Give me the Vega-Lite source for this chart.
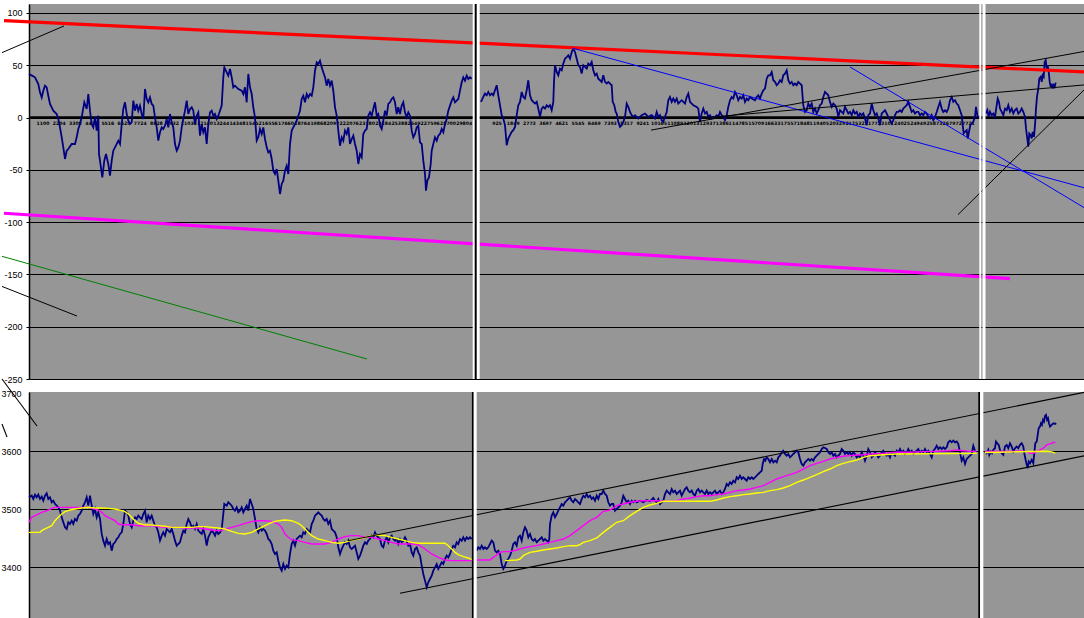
{
"$schema":"https://vega.github.io/schema/vega-lite/v6.json",
"padding":0,
"background":"white",
"spacing":13,
"bounds":"flush",
"config":{"view":{"stroke":null,"fill":"#969696"},"font":"Liberation Sans"},
"resolve":{"scale":{"x":"independent","y":"independent","color":"independent"}},
"datasets":{
"osc":[
{"s":1,"t":0,"v":41.7},{"s":1,"t":3,"v":40.1},{"s":1,"t":6,"v":38.5},{"s":1,"t":9.3,"v":32.1},{"s":1,"t":11,"v":24.1},{"s":1,"t":12.7,"v":19.3},{"s":1,"t":14.3,"v":25.7},{"s":1,"t":16,"v":30.5},{"s":1,"t":17.7,"v":28.9},{"s":1,"t":19.3,"v":20.9},{"s":1,"t":21,"v":13},{"s":1,"t":22.7,"v":9.8},{"s":1,"t":24.3,"v":6.6},{"s":1,"t":27.7,"v":3.4},{"s":1,"t":29.3,"v":-1.4},{"s":1,"t":31,"v":-9.4},{"s":1,"t":32.7,"v":-18.9},{"s":1,"t":34.3,"v":-28.5},{"s":1,"t":36,"v":-39.6},{"s":1,"t":37.7,"v":-31.7},{"s":1,"t":39.3,"v":-30.1},{"s":1,"t":42.7,"v":-25.3},{"s":1,"t":46,"v":-25.3},{"s":1,"t":47.7,"v":-18.9},{"s":1,"t":49.3,"v":-10.9},{"s":1,"t":51,"v":-6.2},{"s":1,"t":52.7,"v":0.2},{"s":1,"t":55.3,"v":14.6},{"s":1,"t":57.7,"v":8.2},{"s":1,"t":59.3,"v":22.5},{"s":1,"t":61,"v":6.6},{"s":1,"t":62.7,"v":-6.2},{"s":1,"t":64.3,"v":-9.4},{"s":1,"t":66,"v":0.2},{"s":1,"t":67.7,"v":-12.5},{"s":1,"t":69.3,"v":1.8},{"s":1,"t":70,"v":-34.9},{"s":1,"t":71,"v":-41.2},{"s":1,"t":73.3,"v":-57.2},{"s":1,"t":75.3,"v":-41.2},{"s":1,"t":77,"v":-34.9},{"s":1,"t":79.3,"v":-44.4},{"s":1,"t":81,"v":-55.6},{"s":1,"t":82.7,"v":-41.2},{"s":1,"t":84.3,"v":-31.7},{"s":1,"t":86,"v":-28.5},{"s":1,"t":89.3,"v":-22.1},{"s":1,"t":91,"v":-25.3},{"s":1,"t":92.7,"v":-6.2},{"s":1,"t":94.3,"v":8.2},{"s":1,"t":96,"v":14.6},{"s":1,"t":97.7,"v":3.4},{"s":1,"t":99.3,"v":-3},{"s":1,"t":101,"v":-6.2},{"s":1,"t":102.7,"v":-4.6},{"s":1,"t":104.3,"v":16.2},{"s":1,"t":106,"v":6.6},{"s":1,"t":107.7,"v":13},{"s":1,"t":109.3,"v":6.6},{"s":1,"t":111,"v":11.4},{"s":1,"t":112.7,"v":3.4},{"s":1,"t":114.3,"v":-1.4},{"s":1,"t":116,"v":27.3},{"s":1,"t":117.7,"v":17.8},{"s":1,"t":119.3,"v":14.6},{"s":1,"t":121,"v":19.3},{"s":1,"t":122.7,"v":13},{"s":1,"t":124.3,"v":11.4},{"s":1,"t":126,"v":0.2},{"s":1,"t":127.7,"v":-9.4},{"s":1,"t":129.3,"v":-22.1},{"s":1,"t":131,"v":-14.1},{"s":1,"t":132.7,"v":-9.4},{"s":1,"t":134.3,"v":-10.9},{"s":1,"t":136,"v":-7.8},{"s":1,"t":137.7,"v":-1.4},{"s":1,"t":139.3,"v":-9.4},{"s":1,"t":141,"v":3.4},{"s":1,"t":142.7,"v":-4.6},{"s":1,"t":144.3,"v":-9.4},{"s":1,"t":146,"v":-25.3},{"s":1,"t":147.7,"v":-31.7},{"s":1,"t":149.3,"v":-28.5},{"s":1,"t":151,"v":-22.1},{"s":1,"t":152.7,"v":-9.4},{"s":1,"t":154.3,"v":-1.4},{"s":1,"t":156,"v":6.6},{"s":1,"t":157.7,"v":16.2},{"s":1,"t":159.3,"v":3.4},{"s":1,"t":161,"v":8.2},{"s":1,"t":162.7,"v":9.8},{"s":1,"t":164.3,"v":6.6},{"s":1,"t":166,"v":-6.2},{"s":1,"t":167.7,"v":1.8},{"s":1,"t":169.3,"v":5},{"s":1,"t":171,"v":-17.3},{"s":1,"t":172.7,"v":-6.2},{"s":1,"t":174.3,"v":-14.1},{"s":1,"t":176,"v":-9.4},{"s":1,"t":177.7,"v":-25.3},{"s":1,"t":179.3,"v":-6.2},{"s":1,"t":181,"v":5},{"s":1,"t":182.7,"v":6.6},{"s":1,"t":184.3,"v":1.8},{"s":1,"t":186,"v":3.4},{"s":1,"t":187.7,"v":-1.4},{"s":1,"t":189.3,"v":1.8},{"s":1,"t":191,"v":6.6},{"s":1,"t":192.7,"v":11.4},{"s":1,"t":194.3,"v":38.5},{"s":1,"t":195.3,"v":48},{"s":1,"t":197.7,"v":43.3},{"s":1,"t":199.3,"v":40.1},{"s":1,"t":201,"v":46.4},{"s":1,"t":202.7,"v":38.5},{"s":1,"t":204.3,"v":28.9},{"s":1,"t":206,"v":30.5},{"s":1,"t":209.3,"v":27.3},{"s":1,"t":212.7,"v":25.7},{"s":1,"t":214.3,"v":22.5},{"s":1,"t":216,"v":28.9},{"s":1,"t":217.7,"v":14.6},{"s":1,"t":219.3,"v":41.7},{"s":1,"t":221,"v":28.9},{"s":1,"t":222.7,"v":22.5},{"s":1,"t":224.3,"v":9.8},{"s":1,"t":226,"v":0.2},{"s":1,"t":227.7,"v":-22.1},{"s":1,"t":229.3,"v":-18.9},{"s":1,"t":231,"v":-10.9},{"s":1,"t":232.7,"v":-15.7},{"s":1,"t":234.3,"v":-9.4},{"s":1,"t":236,"v":-20.5},{"s":1,"t":237.7,"v":-28.5},{"s":1,"t":239.3,"v":-33.3},{"s":1,"t":241,"v":-31.7},{"s":1,"t":242.7,"v":-39.6},{"s":1,"t":244.3,"v":-50.8},{"s":1,"t":246,"v":-54},{"s":1,"t":247.7,"v":-49.2},{"s":1,"t":249.3,"v":-60.3},{"s":1,"t":251,"v":-73.1},{"s":1,"t":252.7,"v":-63.5},{"s":1,"t":254.3,"v":-60.3},{"s":1,"t":256,"v":-50.8},{"s":1,"t":257.7,"v":-46},{"s":1,"t":259.3,"v":-54},{"s":1,"t":261,"v":-25.3},{"s":1,"t":262.7,"v":-12.5},{"s":1,"t":264.3,"v":-9.4},{"s":1,"t":266,"v":-6.2},{"s":1,"t":267.7,"v":-3},{"s":1,"t":269.3,"v":1.8},{"s":1,"t":271,"v":6.6},{"s":1,"t":272.7,"v":17.8},{"s":1,"t":274.3,"v":20.9},{"s":1,"t":276,"v":14.6},{"s":1,"t":277.7,"v":22.5},{"s":1,"t":279.3,"v":19.3},{"s":1,"t":281,"v":22.5},{"s":1,"t":282.7,"v":20.9},{"s":1,"t":284.3,"v":28.9},{"s":1,"t":286,"v":44.8},{"s":1,"t":287.7,"v":52.8},{"s":1,"t":289.3,"v":51.2},{"s":1,"t":291,"v":54.4},{"s":1,"t":292.7,"v":48},{"s":1,"t":294.3,"v":43.3},{"s":1,"t":296,"v":38.5},{"s":1,"t":297.7,"v":30.5},{"s":1,"t":299.3,"v":36.9},{"s":1,"t":301,"v":30.5},{"s":1,"t":302.7,"v":35.3},{"s":1,"t":304.3,"v":25.7},{"s":1,"t":306,"v":9.8},{"s":1,"t":307.7,"v":1.8},{"s":1,"t":309.3,"v":-12.5},{"s":1,"t":311,"v":-26.9},{"s":1,"t":312.7,"v":-18.9},{"s":1,"t":314.3,"v":-22.1},{"s":1,"t":316,"v":-12.5},{"s":1,"t":317.7,"v":-15.7},{"s":1,"t":319.3,"v":-9.4},{"s":1,"t":321,"v":-25.3},{"s":1,"t":322.7,"v":-20.5},{"s":1,"t":324.3,"v":-17.3},{"s":1,"t":326,"v":-25.3},{"s":1,"t":327.7,"v":-31.7},{"s":1,"t":329.3,"v":-44.4},{"s":1,"t":331,"v":-34.9},{"s":1,"t":332.7,"v":-38},{"s":1,"t":334.3,"v":-15.7},{"s":1,"t":336,"v":-12.5},{"s":1,"t":337.7,"v":-10.9},{"s":1,"t":339.3,"v":1.8},{"s":1,"t":341,"v":5},{"s":1,"t":342.7,"v":1.8},{"s":1,"t":344.3,"v":8.2},{"s":1,"t":346,"v":14.6},{"s":1,"t":347.7,"v":1.8},{"s":1,"t":349.3,"v":3.4},{"s":1,"t":351,"v":-7.8},{"s":1,"t":352.7,"v":-10.9},{"s":1,"t":354.3,"v":-3},{"s":1,"t":356,"v":6.6},{"s":1,"t":357.7,"v":1.8},{"s":1,"t":359.3,"v":13},{"s":1,"t":361,"v":14.6},{"s":1,"t":362.7,"v":17.8},{"s":1,"t":364.3,"v":19.3},{"s":1,"t":366,"v":14.6},{"s":1,"t":367.7,"v":3.4},{"s":1,"t":369.3,"v":9.8},{"s":1,"t":371,"v":3.4},{"s":1,"t":372.7,"v":11.4},{"s":1,"t":374.3,"v":14.6},{"s":1,"t":376,"v":5},{"s":1,"t":377.7,"v":0.2},{"s":1,"t":379.3,"v":5},{"s":1,"t":381,"v":1.8},{"s":1,"t":382.7,"v":-12.5},{"s":1,"t":384.3,"v":-18.9},{"s":1,"t":386,"v":-15.7},{"s":1,"t":387.7,"v":-9.4},{"s":1,"t":389.3,"v":-7.8},{"s":1,"t":391,"v":-23.7},{"s":1,"t":392.7,"v":-25.3},{"s":1,"t":394.3,"v":-41.2},{"s":1,"t":396,"v":-54},{"s":1,"t":397,"v":-69.9},{"s":1,"t":398.3,"v":-60.3},{"s":1,"t":400,"v":-57.2},{"s":1,"t":401.7,"v":-44.4},{"s":1,"t":402.7,"v":-31.7},{"s":1,"t":404.3,"v":-25.3},{"s":1,"t":406,"v":-18.9},{"s":1,"t":407.7,"v":-22.1},{"s":1,"t":409.3,"v":-17.3},{"s":1,"t":411,"v":-15.7},{"s":1,"t":412.7,"v":-10.9},{"s":1,"t":414.3,"v":-14.1},{"s":1,"t":416,"v":-6.2},{"s":1,"t":417.7,"v":-1.4},{"s":1,"t":419.3,"v":6.6},{"s":1,"t":421,"v":11.4},{"s":1,"t":422.7,"v":16.2},{"s":1,"t":424.3,"v":19.3},{"s":1,"t":426,"v":14.6},{"s":1,"t":427.7,"v":16.2},{"s":1,"t":429.3,"v":17.8},{"s":1,"t":431,"v":25.7},{"s":1,"t":432.7,"v":33.7},{"s":1,"t":434.3,"v":38.5},{"s":1,"t":436,"v":35.3},{"s":1,"t":437.7,"v":40.1},{"s":1,"t":439.3,"v":36.9},{"s":1,"t":441,"v":38.5},{"s":1,"t":442.7,"v":36.9},
{"s":2,"t":452,"v":15},{"s":2,"t":454.3,"v":19.7},{"s":2,"t":456,"v":22.9},{"s":2,"t":457.7,"v":21.3},{"s":2,"t":459.3,"v":24.5},{"s":2,"t":461,"v":21.3},{"s":2,"t":462.7,"v":22.9},{"s":2,"t":464.3,"v":21.3},{"s":2,"t":466,"v":26.1},{"s":2,"t":467.7,"v":30.9},{"s":2,"t":469.3,"v":21.3},{"s":2,"t":471,"v":11.8},{"s":2,"t":472.7,"v":2.3},{"s":2,"t":474.3,"v":-0.9},{"s":2,"t":476,"v":-7.3},{"s":2,"t":477.7,"v":-26.4},{"s":2,"t":479.3,"v":-20},{"s":2,"t":481,"v":-16.8},{"s":2,"t":482.7,"v":-13.6},{"s":2,"t":484.3,"v":-12.1},{"s":2,"t":486,"v":-8.9},{"s":2,"t":487.7,"v":2.3},{"s":2,"t":489.3,"v":11.8},{"s":2,"t":491,"v":15},{"s":2,"t":492.7,"v":24.5},{"s":2,"t":494.3,"v":19.7},{"s":2,"t":496,"v":18.2},{"s":2,"t":497.7,"v":26.1},{"s":2,"t":499.3,"v":35.7},{"s":2,"t":501,"v":21.3},{"s":2,"t":502.7,"v":16.6},{"s":2,"t":504.3,"v":15},{"s":2,"t":506,"v":13.4},{"s":2,"t":507.7,"v":15},{"s":2,"t":509.3,"v":8.6},{"s":2,"t":511,"v":0.7},{"s":2,"t":512.7,"v":8.6},{"s":2,"t":514.3,"v":10.2},{"s":2,"t":516,"v":8.6},{"s":2,"t":517.7,"v":11.8},{"s":2,"t":519.3,"v":10.2},{"s":2,"t":521,"v":11.8},{"s":2,"t":522.7,"v":7},{"s":2,"t":524.3,"v":15},{"s":2,"t":525,"v":34.1},{"s":2,"t":526,"v":50},{"s":2,"t":527.7,"v":43.6},{"s":2,"t":529.3,"v":40.4},{"s":2,"t":531,"v":46.8},{"s":2,"t":532.7,"v":45.2},{"s":2,"t":534.3,"v":51.6},{"s":2,"t":536,"v":56.3},{"s":2,"t":537.7,"v":57.9},{"s":2,"t":539.3,"v":59.5},{"s":2,"t":541,"v":56.3},{"s":2,"t":542.7,"v":62.7},{"s":2,"t":544.3,"v":65.9},{"s":2,"t":546,"v":62.7},{"s":2,"t":547.7,"v":56.3},{"s":2,"t":549.3,"v":50},{"s":2,"t":551,"v":48.4},{"s":2,"t":552.7,"v":42},{"s":2,"t":554.3,"v":50},{"s":2,"t":556,"v":48.4},{"s":2,"t":557.7,"v":46.8},{"s":2,"t":559.3,"v":51.6},{"s":2,"t":561,"v":50},{"s":2,"t":562.7,"v":53.1},{"s":2,"t":564.3,"v":45.2},{"s":2,"t":566,"v":40.4},{"s":2,"t":567.7,"v":42},{"s":2,"t":569.3,"v":37.2},{"s":2,"t":571,"v":35.7},{"s":2,"t":572.7,"v":34.1},{"s":2,"t":574.3,"v":40.4},{"s":2,"t":576,"v":34.1},{"s":2,"t":577.7,"v":32.5},{"s":2,"t":579.3,"v":34.1},{"s":2,"t":581,"v":32.5},{"s":2,"t":582.7,"v":30.9},{"s":2,"t":583.7,"v":15},{"s":2,"t":585.3,"v":11.8},{"s":2,"t":586.7,"v":5.4},{"s":2,"t":587.7,"v":3.9},{"s":2,"t":589.3,"v":-4.1},{"s":2,"t":591,"v":-8.9},{"s":2,"t":592.7,"v":-7.3},{"s":2,"t":594.3,"v":-4.1},{"s":2,"t":596,"v":0.7},{"s":2,"t":597.7,"v":13.4},{"s":2,"t":599.3,"v":10.2},{"s":2,"t":601,"v":5.4},{"s":2,"t":602.7,"v":2.3},{"s":2,"t":604.3,"v":0.7},{"s":2,"t":606,"v":2.3},{"s":2,"t":609.3,"v":-0.9},{"s":2,"t":612.7,"v":2.3},{"s":2,"t":616,"v":3.9},{"s":2,"t":619.3,"v":0.7},{"s":2,"t":622.7,"v":2.3},{"s":2,"t":626,"v":-0.9},{"s":2,"t":627.7,"v":5.4},{"s":2,"t":629.3,"v":0.7},{"s":2,"t":631,"v":2.3},{"s":2,"t":632.7,"v":-2.5},{"s":2,"t":634.3,"v":-4.1},{"s":2,"t":636,"v":0.7},{"s":2,"t":637.7,"v":5.4},{"s":2,"t":639.3,"v":16.6},{"s":2,"t":641,"v":19.7},{"s":2,"t":642.7,"v":15},{"s":2,"t":644.3,"v":18.2},{"s":2,"t":646,"v":15},{"s":2,"t":647.7,"v":18.2},{"s":2,"t":649.3,"v":13.4},{"s":2,"t":652.7,"v":16.6},{"s":2,"t":656,"v":13.4},{"s":2,"t":657.7,"v":19.7},{"s":2,"t":659.3,"v":22.9},{"s":2,"t":661,"v":15},{"s":2,"t":662.7,"v":13.4},{"s":2,"t":664.3,"v":11.8},{"s":2,"t":667.7,"v":10.2},{"s":2,"t":669.3,"v":8.6},{"s":2,"t":671,"v":-4.1},{"s":2,"t":672.7,"v":3.9},{"s":2,"t":674.3,"v":8.6},{"s":2,"t":676,"v":3.9},{"s":2,"t":677.7,"v":5.4},{"s":2,"t":679.3,"v":0.7},{"s":2,"t":681,"v":2.3},{"s":2,"t":682.7,"v":-0.9},{"s":2,"t":684.3,"v":0.7},{"s":2,"t":686,"v":0.7},{"s":2,"t":687.7,"v":2.3},{"s":2,"t":689.3,"v":0.7},{"s":2,"t":691,"v":5.4},{"s":2,"t":692.7,"v":2.3},{"s":2,"t":694.3,"v":0.7},{"s":2,"t":696,"v":-2.5},{"s":2,"t":697.7,"v":2.3},{"s":2,"t":699.3,"v":10.2},{"s":2,"t":701,"v":16.6},{"s":2,"t":702.7,"v":19.7},{"s":2,"t":704.3,"v":18.2},{"s":2,"t":706,"v":24.5},{"s":2,"t":707.7,"v":21.3},{"s":2,"t":709.3,"v":16.6},{"s":2,"t":711,"v":19.7},{"s":2,"t":712.7,"v":18.2},{"s":2,"t":714.3,"v":21.3},{"s":2,"t":716,"v":15},{"s":2,"t":717.7,"v":18.2},{"s":2,"t":719.3,"v":16.6},{"s":2,"t":721,"v":19.7},{"s":2,"t":722.7,"v":18.2},{"s":2,"t":726,"v":16.6},{"s":2,"t":727.7,"v":19.7},{"s":2,"t":729.3,"v":21.3},{"s":2,"t":731,"v":18.2},{"s":2,"t":732.7,"v":22.9},{"s":2,"t":734.3,"v":26.1},{"s":2,"t":736,"v":27.7},{"s":2,"t":737.7,"v":37.2},{"s":2,"t":739.3,"v":40.4},{"s":2,"t":741,"v":40.4},{"s":2,"t":742.7,"v":43.6},{"s":2,"t":744.3,"v":35.7},{"s":2,"t":746,"v":34.1},{"s":2,"t":747.7,"v":30.9},{"s":2,"t":749.3,"v":32.5},{"s":2,"t":751,"v":35.7},{"s":2,"t":752.7,"v":34.1},{"s":2,"t":754.3,"v":40.4},{"s":2,"t":756,"v":42},{"s":2,"t":757.7,"v":45.2},{"s":2,"t":759.3,"v":35.7},{"s":2,"t":761,"v":32.5},{"s":2,"t":762.7,"v":34.1},{"s":2,"t":764.3,"v":30.9},{"s":2,"t":766,"v":32.5},{"s":2,"t":767.7,"v":30.9},{"s":2,"t":769.3,"v":34.1},{"s":2,"t":771,"v":32.5},{"s":2,"t":772.7,"v":30.9},{"s":2,"t":774.3,"v":11.8},{"s":2,"t":776,"v":5.4},{"s":2,"t":777.7,"v":7},{"s":2,"t":779.3,"v":13.4},{"s":2,"t":781,"v":10.2},{"s":2,"t":782.7,"v":13.4},{"s":2,"t":784.3,"v":5.4},{"s":2,"t":786,"v":8.6},{"s":2,"t":787.7,"v":3.9},{"s":2,"t":789.3,"v":7},{"s":2,"t":791,"v":11.8},{"s":2,"t":792.7,"v":13.4},{"s":2,"t":794.3,"v":19.7},{"s":2,"t":796,"v":24.5},{"s":2,"t":797.7,"v":22.9},{"s":2,"t":799.3,"v":21.3},{"s":2,"t":801,"v":15},{"s":2,"t":802.7,"v":10.2},{"s":2,"t":804.3,"v":13.4},{"s":2,"t":806,"v":11.8},{"s":2,"t":807.7,"v":8.6},{"s":2,"t":809.3,"v":0.7},{"s":2,"t":811,"v":7},{"s":2,"t":812.7,"v":5.4},{"s":2,"t":814.3,"v":3.9},{"s":2,"t":816,"v":10.2},{"s":2,"t":817.7,"v":7},{"s":2,"t":819.3,"v":3.9},{"s":2,"t":821,"v":5.4},{"s":2,"t":822.7,"v":2.3},{"s":2,"t":824.3,"v":7},{"s":2,"t":826,"v":3.9},{"s":2,"t":827.7,"v":5.4},{"s":2,"t":829.3,"v":0.7},{"s":2,"t":831,"v":3.9},{"s":2,"t":832.7,"v":2.3},{"s":2,"t":834.3,"v":3.9},{"s":2,"t":836,"v":-0.9},{"s":2,"t":837.7,"v":-7.3},{"s":2,"t":839.3,"v":2.3},{"s":2,"t":841,"v":3.9},{"s":2,"t":842.7,"v":13.4},{"s":2,"t":844.3,"v":7},{"s":2,"t":846,"v":2.3},{"s":2,"t":847.7,"v":3.9},{"s":2,"t":849.3,"v":-0.9},{"s":2,"t":851,"v":-7.3},{"s":2,"t":852.7,"v":3.9},{"s":2,"t":854.3,"v":5.4},{"s":2,"t":856,"v":7},{"s":2,"t":857.7,"v":3.9},{"s":2,"t":859.3,"v":0.7},{"s":2,"t":861,"v":-2.5},{"s":2,"t":862.7,"v":-5.7},{"s":2,"t":864.3,"v":-2.5},{"s":2,"t":866,"v":2.3},{"s":2,"t":867.7,"v":5.4},{"s":2,"t":869.3,"v":5.4},{"s":2,"t":871,"v":7},{"s":2,"t":872.7,"v":5.4},{"s":2,"t":874.3,"v":8.6},{"s":2,"t":876,"v":10.2},{"s":2,"t":877.7,"v":11.8},{"s":2,"t":879.3,"v":15},{"s":2,"t":881,"v":10.2},{"s":2,"t":882.7,"v":5.4},{"s":2,"t":884.3,"v":7},{"s":2,"t":886,"v":3.9},{"s":2,"t":887.7,"v":5.4},{"s":2,"t":889.3,"v":5.4},{"s":2,"t":891,"v":2.3},{"s":2,"t":892.7,"v":3.9},{"s":2,"t":894.3,"v":2.3},{"s":2,"t":896,"v":5.4},{"s":2,"t":897.7,"v":3.9},{"s":2,"t":899.3,"v":0.7},{"s":2,"t":901,"v":-0.9},{"s":2,"t":902.7,"v":2.3},{"s":2,"t":904.3,"v":-2.5},{"s":2,"t":906,"v":0.7},{"s":2,"t":907.7,"v":5.4},{"s":2,"t":909.3,"v":10.2},{"s":2,"t":911,"v":15},{"s":2,"t":912.7,"v":8.6},{"s":2,"t":914.3,"v":5.4},{"s":2,"t":916,"v":7},{"s":2,"t":917.7,"v":5.4},{"s":2,"t":919.3,"v":8.6},{"s":2,"t":921,"v":16.6},{"s":2,"t":922.7,"v":19.7},{"s":2,"t":924.3,"v":15},{"s":2,"t":926,"v":16.6},{"s":2,"t":927.7,"v":13.4},{"s":2,"t":929.3,"v":11.8},{"s":2,"t":931,"v":7},{"s":2,"t":932.7,"v":2.3},{"s":2,"t":933.7,"v":-7.3},{"s":2,"t":934.7,"v":-15.2},{"s":2,"t":936,"v":-13.6},{"s":2,"t":937.7,"v":-12.1},{"s":2,"t":938.7,"v":-20},{"s":2,"t":940,"v":-13.6},{"s":2,"t":941.3,"v":-7.3},{"s":2,"t":942.7,"v":-5.7},{"s":2,"t":944.3,"v":-4.1},{"s":2,"t":946,"v":0.7},{"s":2,"t":947,"v":10.2},{"s":2,"t":948.3,"v":2.3},{"s":2,"t":949.3,"v":-0.9},
{"s":3,"t":957,"v":3.9},{"s":3,"t":958.3,"v":7.1},{"s":3,"t":959.7,"v":0.7},{"s":3,"t":961,"v":5.5},{"s":3,"t":962.7,"v":2.3},{"s":3,"t":964.3,"v":3.9},{"s":3,"t":966,"v":0.7},{"s":3,"t":967.7,"v":11.8},{"s":3,"t":968.7,"v":18.2},{"s":3,"t":970,"v":15},{"s":3,"t":971,"v":8.6},{"s":3,"t":972.7,"v":5.5},{"s":3,"t":974.3,"v":2.3},{"s":3,"t":976,"v":8.6},{"s":3,"t":977.7,"v":7.1},{"s":3,"t":979.3,"v":11.8},{"s":3,"t":981,"v":5.5},{"s":3,"t":982.7,"v":8.6},{"s":3,"t":984.3,"v":3.9},{"s":3,"t":986,"v":7.1},{"s":3,"t":987.7,"v":8.6},{"s":3,"t":989.3,"v":3.9},{"s":3,"t":991,"v":5.5},{"s":3,"t":992.7,"v":8.6},{"s":3,"t":994.3,"v":5.5},{"s":3,"t":996,"v":0.7},{"s":3,"t":997,"v":-10.4},{"s":3,"t":998.3,"v":-20},{"s":3,"t":999.3,"v":-27.9},{"s":3,"t":1000.3,"v":-15.2},{"s":3,"t":1001.7,"v":-16.8},{"s":3,"t":1002.7,"v":-20},{"s":3,"t":1003.7,"v":-13.6},{"s":3,"t":1005,"v":-18.4},{"s":3,"t":1006,"v":-7.3},{"s":3,"t":1007,"v":8.6},{"s":3,"t":1008,"v":19.8},{"s":3,"t":1009.3,"v":27.7},{"s":3,"t":1010.3,"v":37.3},{"s":3,"t":1011.7,"v":38.9},{"s":3,"t":1012.7,"v":34.1},{"s":3,"t":1013.7,"v":40.4},{"s":3,"t":1014.7,"v":38.9},{"s":3,"t":1015.7,"v":53.2},{"s":3,"t":1016.7,"v":54.8},{"s":3,"t":1017.7,"v":46.8},{"s":3,"t":1018.7,"v":50},{"s":3,"t":1019.7,"v":43.6},{"s":3,"t":1020.7,"v":34.1},{"s":3,"t":1021.7,"v":29.3},{"s":3,"t":1022.7,"v":32.5},{"s":3,"t":1023.7,"v":27.7},{"s":3,"t":1024.7,"v":30.9},{"s":3,"t":1025.7,"v":29.3},{"s":3,"t":1026.7,"v":33.4}
],
"trendTop":[
{"line":"red","t":-25,"v":92.66},{"line":"red","t":1055,"v":43.6},
{"line":"magenta","t":-25,"v":-91.49},{"line":"magenta","t":981,"v":-154},
{"line":"green","t":-27,"v":-132.67},{"line":"green","t":338,"v":-230.9},
{"line":"k1","t":-27,"v":62.11},{"line":"k1","t":35,"v":87.6},
{"line":"k2","t":-27,"v":-161.48},{"line":"k2","t":48,"v":-189.8},
{"line":"b1","t":543,"v":66.5},{"line":"b1","t":1055,"v":-67.1},
{"line":"b2","t":821,"v":48.4},{"line":"b2","t":1055,"v":-86.1},
{"line":"k3","t":622,"v":-12},{"line":"k3","t":1055,"v":63.2},
{"line":"k4","t":673,"v":-0.3},{"line":"k4","t":1055,"v":31.2},
{"line":"k5","t":929,"v":-92.8},{"line":"k5","t":1055,"v":26.4}
],
"lbl":[
{"t":14,"lab":"1100"},{"t":30.2,"lab":"2204"},{"t":46.4,"lab":"3308"},{"t":62.6,"lab":"4412"},{"t":78.8,"lab":"5516"},{"t":95,"lab":"6620"},{"t":111.2,"lab":"7724"},{"t":127.4,"lab":"8828"},{"t":143.6,"lab":"9932"},{"t":159.8,"lab":"11036"},{"t":176,"lab":"12140"},{"t":192.2,"lab":"13244"},{"t":208.4,"lab":"14348"},{"t":224.6,"lab":"15452"},{"t":240.8,"lab":"16556"},{"t":257,"lab":"17660"},{"t":273.2,"lab":"18764"},{"t":289.4,"lab":"19868"},{"t":305.6,"lab":"20972"},{"t":321.8,"lab":"22076"},{"t":338,"lab":"23180"},{"t":354.2,"lab":"24284"},{"t":370.4,"lab":"25388"},{"t":386.6,"lab":"26492"},{"t":402.8,"lab":"27596"},{"t":419,"lab":"28700"},{"t":435.2,"lab":"29804"},
{"t":468,"lab":"925"},{"t":484.2,"lab":"1849"},{"t":500.4,"lab":"2773"},{"t":516.6,"lab":"3697"},{"t":532.8,"lab":"4621"},{"t":549,"lab":"5545"},{"t":565.2,"lab":"6469"},{"t":581.4,"lab":"7393"},{"t":597.6,"lab":"8317"},{"t":613.8,"lab":"9241"},{"t":630,"lab":"10165"},{"t":646.2,"lab":"11089"},{"t":662.4,"lab":"12013"},{"t":678.6,"lab":"12937"},{"t":694.8,"lab":"13861"},{"t":711,"lab":"14785"},{"t":727.2,"lab":"15709"},{"t":743.4,"lab":"16633"},{"t":759.6,"lab":"17557"},{"t":775.8,"lab":"18481"},{"t":792,"lab":"19405"},{"t":808.2,"lab":"20329"},{"t":824.4,"lab":"21253"},{"t":840.6,"lab":"22177"},{"t":856.8,"lab":"23101"},{"t":873,"lab":"24025"},{"t":889.2,"lab":"24949"},{"t":905.4,"lab":"25873"},{"t":921.6,"lab":"26797"},{"t":937.8,"lab":"27721"}
],
"price":[
{"s":1,"t":0,"v":3520.5},{"s":1,"t":2.7,"v":3523.4},{"s":1,"t":4.3,"v":3517.6},{"s":1,"t":6,"v":3525.1},{"s":1,"t":7.7,"v":3520.5},{"s":1,"t":9.3,"v":3525.1},{"s":1,"t":11,"v":3517.6},{"s":1,"t":12.7,"v":3521.6},{"s":1,"t":14.3,"v":3514.7},{"s":1,"t":16,"v":3523.4},{"s":1,"t":17.7,"v":3527.4},{"s":1,"t":19.3,"v":3517.6},{"s":1,"t":21,"v":3520.5},{"s":1,"t":22.7,"v":3511.9},{"s":1,"t":24.3,"v":3514.7},{"s":1,"t":26,"v":3509},{"s":1,"t":27.7,"v":3506.1},{"s":1,"t":29.3,"v":3503.2},{"s":1,"t":31,"v":3497.5},{"s":1,"t":32.7,"v":3486},{"s":1,"t":34.3,"v":3477.4},{"s":1,"t":36,"v":3468.7},{"s":1,"t":37.7,"v":3465.9},{"s":1,"t":39.3,"v":3477.4},{"s":1,"t":41,"v":3474.5},{"s":1,"t":42.7,"v":3480.2},{"s":1,"t":44.3,"v":3474.5},{"s":1,"t":46,"v":3483.1},{"s":1,"t":47.7,"v":3480.2},{"s":1,"t":49.3,"v":3488.9},{"s":1,"t":51,"v":3491.7},{"s":1,"t":52.7,"v":3497.5},{"s":1,"t":54.3,"v":3506.1},{"s":1,"t":56,"v":3511.9},{"s":1,"t":57.7,"v":3520.5},{"s":1,"t":59.3,"v":3506.1},{"s":1,"t":61,"v":3523.4},{"s":1,"t":62.7,"v":3506.1},{"s":1,"t":64.3,"v":3491.7},{"s":1,"t":66,"v":3500.4},{"s":1,"t":67.7,"v":3486},{"s":1,"t":69.3,"v":3494.6},{"s":1,"t":71,"v":3483.1},{"s":1,"t":72.7,"v":3457.3},{"s":1,"t":74.3,"v":3445.8},{"s":1,"t":76,"v":3437.1},{"s":1,"t":77.7,"v":3448.6},{"s":1,"t":79.3,"v":3440},{"s":1,"t":81,"v":3442.9},{"s":1,"t":82.7,"v":3428.5},{"s":1,"t":84.3,"v":3440},{"s":1,"t":86,"v":3442.9},{"s":1,"t":87.7,"v":3448.6},{"s":1,"t":89.3,"v":3451.5},{"s":1,"t":91,"v":3457.3},{"s":1,"t":92.7,"v":3460.1},{"s":1,"t":94.3,"v":3474.5},{"s":1,"t":96,"v":3497.5},{"s":1,"t":97.7,"v":3494.6},{"s":1,"t":99.3,"v":3488.9},{"s":1,"t":101,"v":3474.5},{"s":1,"t":102.7,"v":3468.7},{"s":1,"t":104.3,"v":3480.2},{"s":1,"t":106,"v":3486},{"s":1,"t":107.7,"v":3483.1},{"s":1,"t":109.3,"v":3488.9},{"s":1,"t":111,"v":3486},{"s":1,"t":112.7,"v":3483.1},{"s":1,"t":114.3,"v":3491.7},{"s":1,"t":116,"v":3497.5},{"s":1,"t":117.7,"v":3477.4},{"s":1,"t":119.3,"v":3488.9},{"s":1,"t":121,"v":3483.1},{"s":1,"t":122.7,"v":3488.9},{"s":1,"t":124.3,"v":3480.2},{"s":1,"t":126,"v":3471.6},{"s":1,"t":127.7,"v":3468.7},{"s":1,"t":129.3,"v":3460.1},{"s":1,"t":131,"v":3445.8},{"s":1,"t":132.7,"v":3454.4},{"s":1,"t":134.3,"v":3460.1},{"s":1,"t":136,"v":3454.4},{"s":1,"t":137.7,"v":3465.9},{"s":1,"t":139.3,"v":3463},{"s":1,"t":141,"v":3460.1},{"s":1,"t":142.7,"v":3465.9},{"s":1,"t":144.3,"v":3457.3},{"s":1,"t":146,"v":3445.8},{"s":1,"t":147.7,"v":3437.1},{"s":1,"t":149.3,"v":3440},{"s":1,"t":151,"v":3442.9},{"s":1,"t":152.7,"v":3454.4},{"s":1,"t":154.3,"v":3463},{"s":1,"t":156,"v":3460.1},{"s":1,"t":157.7,"v":3474.5},{"s":1,"t":159.3,"v":3483.1},{"s":1,"t":161,"v":3477.4},{"s":1,"t":162.7,"v":3468.7},{"s":1,"t":164.3,"v":3471.6},{"s":1,"t":166,"v":3465.9},{"s":1,"t":167.7,"v":3474.5},{"s":1,"t":169.3,"v":3463},{"s":1,"t":171,"v":3460.1},{"s":1,"t":172.7,"v":3457.3},{"s":1,"t":174.3,"v":3465.9},{"s":1,"t":176,"v":3454.4},{"s":1,"t":177.7,"v":3437.1},{"s":1,"t":179.3,"v":3451.5},{"s":1,"t":181,"v":3457.3},{"s":1,"t":182.7,"v":3463},{"s":1,"t":184.3,"v":3460.1},{"s":1,"t":186,"v":3454.4},{"s":1,"t":187.7,"v":3463},{"s":1,"t":189.3,"v":3457.3},{"s":1,"t":191,"v":3460.1},{"s":1,"t":192.7,"v":3465.9},{"s":1,"t":194.3,"v":3491.7},{"s":1,"t":195.3,"v":3509},{"s":1,"t":197.7,"v":3506.1},{"s":1,"t":199.3,"v":3511.9},{"s":1,"t":201,"v":3509},{"s":1,"t":202.7,"v":3506.1},{"s":1,"t":204.3,"v":3500.4},{"s":1,"t":206,"v":3497.5},{"s":1,"t":207.7,"v":3503.2},{"s":1,"t":209.3,"v":3494.6},{"s":1,"t":211,"v":3497.5},{"s":1,"t":212.7,"v":3503.2},{"s":1,"t":214.3,"v":3494.6},{"s":1,"t":216,"v":3500.4},{"s":1,"t":217.7,"v":3506.1},{"s":1,"t":219.3,"v":3497.5},{"s":1,"t":221,"v":3517.6},{"s":1,"t":222.7,"v":3509},{"s":1,"t":224.3,"v":3500.4},{"s":1,"t":226,"v":3483.1},{"s":1,"t":227.7,"v":3465.9},{"s":1,"t":229.3,"v":3460.1},{"s":1,"t":231,"v":3468.7},{"s":1,"t":232.7,"v":3463},{"s":1,"t":234.3,"v":3465.9},{"s":1,"t":236,"v":3463},{"s":1,"t":237.7,"v":3457.3},{"s":1,"t":239.3,"v":3448.6},{"s":1,"t":241,"v":3445.8},{"s":1,"t":242.7,"v":3440},{"s":1,"t":244.3,"v":3428.5},{"s":1,"t":246,"v":3422.8},{"s":1,"t":247.7,"v":3425.6},{"s":1,"t":249.3,"v":3411.3},{"s":1,"t":251,"v":3399.8},{"s":1,"t":252.7,"v":3394},{"s":1,"t":254.3,"v":3405.5},{"s":1,"t":256,"v":3396.9},{"s":1,"t":257.7,"v":3402.7},{"s":1,"t":259.3,"v":3399.8},{"s":1,"t":261,"v":3422.8},{"s":1,"t":262.7,"v":3440},{"s":1,"t":264.3,"v":3445.8},{"s":1,"t":266,"v":3437.1},{"s":1,"t":267.7,"v":3448.6},{"s":1,"t":269.3,"v":3451.5},{"s":1,"t":271,"v":3454.4},{"s":1,"t":272.7,"v":3451.5},{"s":1,"t":274.3,"v":3460.1},{"s":1,"t":276,"v":3457.3},{"s":1,"t":277.7,"v":3465.9},{"s":1,"t":279.3,"v":3463},{"s":1,"t":281,"v":3460.1},{"s":1,"t":282.7,"v":3474.5},{"s":1,"t":284.3,"v":3480.2},{"s":1,"t":286,"v":3488.9},{"s":1,"t":287.7,"v":3491.7},{"s":1,"t":289.3,"v":3494.6},{"s":1,"t":291,"v":3491.7},{"s":1,"t":292.7,"v":3488.9},{"s":1,"t":294.3,"v":3483.1},{"s":1,"t":296,"v":3480.2},{"s":1,"t":297.7,"v":3483.1},{"s":1,"t":299.3,"v":3474.5},{"s":1,"t":301,"v":3480.2},{"s":1,"t":302.7,"v":3465.9},{"s":1,"t":304.3,"v":3463},{"s":1,"t":306,"v":3460.1},{"s":1,"t":307.7,"v":3451.5},{"s":1,"t":309.3,"v":3434.3},{"s":1,"t":311,"v":3422.8},{"s":1,"t":312.7,"v":3431.4},{"s":1,"t":314.3,"v":3437.1},{"s":1,"t":316,"v":3442.9},{"s":1,"t":317.7,"v":3440},{"s":1,"t":319.3,"v":3445.8},{"s":1,"t":321,"v":3434.3},{"s":1,"t":322.7,"v":3431.4},{"s":1,"t":324.3,"v":3434.3},{"s":1,"t":326,"v":3437.1},{"s":1,"t":327.7,"v":3425.6},{"s":1,"t":329.3,"v":3414.1},{"s":1,"t":331,"v":3419.9},{"s":1,"t":332.7,"v":3428.5},{"s":1,"t":334.3,"v":3437.1},{"s":1,"t":336,"v":3442.9},{"s":1,"t":337.7,"v":3440},{"s":1,"t":339.3,"v":3445.8},{"s":1,"t":341,"v":3448.6},{"s":1,"t":342.7,"v":3454.4},{"s":1,"t":344.3,"v":3451.5},{"s":1,"t":346,"v":3460.1},{"s":1,"t":347.7,"v":3454.4},{"s":1,"t":349.3,"v":3451.5},{"s":1,"t":351,"v":3448.6},{"s":1,"t":352.7,"v":3437.1},{"s":1,"t":354.3,"v":3434.3},{"s":1,"t":356,"v":3445.8},{"s":1,"t":357.7,"v":3451.5},{"s":1,"t":359.3,"v":3442.9},{"s":1,"t":361,"v":3451.5},{"s":1,"t":362.7,"v":3454.4},{"s":1,"t":364.3,"v":3448.6},{"s":1,"t":366,"v":3445.8},{"s":1,"t":367.7,"v":3448.6},{"s":1,"t":369.3,"v":3440},{"s":1,"t":371,"v":3448.6},{"s":1,"t":372.7,"v":3442.9},{"s":1,"t":374.3,"v":3445.8},{"s":1,"t":376,"v":3451.5},{"s":1,"t":377.7,"v":3445.8},{"s":1,"t":379.3,"v":3437.1},{"s":1,"t":381,"v":3440},{"s":1,"t":382.7,"v":3425.6},{"s":1,"t":384.3,"v":3419.9},{"s":1,"t":386,"v":3431.4},{"s":1,"t":387.7,"v":3434.3},{"s":1,"t":389.3,"v":3425.6},{"s":1,"t":391,"v":3419.9},{"s":1,"t":392.7,"v":3402.7},{"s":1,"t":394.3,"v":3388.3},{"s":1,"t":396,"v":3376.8},{"s":1,"t":397.7,"v":3365.3},{"s":1,"t":399.3,"v":3373.9},{"s":1,"t":401,"v":3379.7},{"s":1,"t":402.7,"v":3385.4},{"s":1,"t":404.3,"v":3394},{"s":1,"t":406,"v":3399.8},{"s":1,"t":407.7,"v":3405.5},{"s":1,"t":409.3,"v":3396.9},{"s":1,"t":411,"v":3402.7},{"s":1,"t":412.7,"v":3408.4},{"s":1,"t":414.3,"v":3405.5},{"s":1,"t":416,"v":3414.1},{"s":1,"t":417.7,"v":3419.9},{"s":1,"t":419.3,"v":3417},{"s":1,"t":421,"v":3422.8},{"s":1,"t":422.7,"v":3431.4},{"s":1,"t":424.3,"v":3437.1},{"s":1,"t":426,"v":3434.3},{"s":1,"t":427.7,"v":3442.9},{"s":1,"t":429.3,"v":3440},{"s":1,"t":431,"v":3448.6},{"s":1,"t":432.7,"v":3445.8},{"s":1,"t":434.3,"v":3451.5},{"s":1,"t":436,"v":3445.8},{"s":1,"t":437.7,"v":3451.5},{"s":1,"t":439.3,"v":3448.6},{"s":1,"t":441,"v":3451.5},{"s":1,"t":442.7,"v":3448.6},
{"s":2,"t":447.7,"v":3428.5},{"s":2,"t":449.3,"v":3434.3},{"s":2,"t":451,"v":3431.4},{"s":2,"t":452.7,"v":3437.1},{"s":2,"t":454.3,"v":3431.4},{"s":2,"t":456,"v":3434.3},{"s":2,"t":457.7,"v":3431.4},{"s":2,"t":459.3,"v":3434.3},{"s":2,"t":461,"v":3440},{"s":2,"t":462.7,"v":3445.8},{"s":2,"t":464.3,"v":3442.9},{"s":2,"t":466,"v":3428.5},{"s":2,"t":467.7,"v":3425.6},{"s":2,"t":469.3,"v":3428.5},{"s":2,"t":471,"v":3422.8},{"s":2,"t":472.7,"v":3405.5},{"s":2,"t":474.3,"v":3396.9},{"s":2,"t":476,"v":3402.7},{"s":2,"t":477.7,"v":3411.3},{"s":2,"t":479.3,"v":3414.1},{"s":2,"t":481,"v":3419.9},{"s":2,"t":482.7,"v":3428.5},{"s":2,"t":484.3,"v":3440},{"s":2,"t":486,"v":3442.9},{"s":2,"t":487.7,"v":3437.1},{"s":2,"t":489.3,"v":3451.5},{"s":2,"t":491,"v":3454.4},{"s":2,"t":492.7,"v":3445.8},{"s":2,"t":494.3,"v":3460.1},{"s":2,"t":496,"v":3468.7},{"s":2,"t":497.7,"v":3463},{"s":2,"t":499.3,"v":3451.5},{"s":2,"t":501,"v":3457.3},{"s":2,"t":502.7,"v":3448.6},{"s":2,"t":504.3,"v":3445.8},{"s":2,"t":506,"v":3448.6},{"s":2,"t":507.7,"v":3442.9},{"s":2,"t":509.3,"v":3445.8},{"s":2,"t":511,"v":3448.6},{"s":2,"t":512.7,"v":3451.5},{"s":2,"t":514.3,"v":3445.8},{"s":2,"t":516,"v":3448.6},{"s":2,"t":517.7,"v":3445.8},{"s":2,"t":519.3,"v":3442.9},{"s":2,"t":520.3,"v":3448.6},{"s":2,"t":521,"v":3474.5},{"s":2,"t":522.7,"v":3488.9},{"s":2,"t":524.3,"v":3494.6},{"s":2,"t":526,"v":3486},{"s":2,"t":527.7,"v":3491.7},{"s":2,"t":529.3,"v":3497.5},{"s":2,"t":531,"v":3503.2},{"s":2,"t":532.7,"v":3509},{"s":2,"t":534.3,"v":3506.1},{"s":2,"t":536,"v":3511.9},{"s":2,"t":537.7,"v":3514.7},{"s":2,"t":539.3,"v":3517.6},{"s":2,"t":541,"v":3520.5},{"s":2,"t":542.7,"v":3514.7},{"s":2,"t":544.3,"v":3511.9},{"s":2,"t":546,"v":3517.6},{"s":2,"t":547.7,"v":3514.7},{"s":2,"t":549.3,"v":3511.9},{"s":2,"t":551,"v":3509},{"s":2,"t":552.7,"v":3517.6},{"s":2,"t":554.3,"v":3523.3},{"s":2,"t":556,"v":3520.5},{"s":2,"t":557.7,"v":3526.2},{"s":2,"t":559.3,"v":3520.5},{"s":2,"t":561,"v":3523.3},{"s":2,"t":562.7,"v":3517.6},{"s":2,"t":564.3,"v":3520.5},{"s":2,"t":566,"v":3514.7},{"s":2,"t":567.7,"v":3523.3},{"s":2,"t":569.3,"v":3517.6},{"s":2,"t":571,"v":3526.2},{"s":2,"t":572.7,"v":3526.2},{"s":2,"t":574.3,"v":3532},{"s":2,"t":576,"v":3526.2},{"s":2,"t":577.7,"v":3523.3},{"s":2,"t":579.3,"v":3511.9},{"s":2,"t":581,"v":3506.1},{"s":2,"t":582.7,"v":3509},{"s":2,"t":584.3,"v":3509},{"s":2,"t":586,"v":3497.5},{"s":2,"t":587.7,"v":3500.4},{"s":2,"t":589.3,"v":3503.2},{"s":2,"t":591,"v":3506.1},{"s":2,"t":592.7,"v":3511.9},{"s":2,"t":594.3,"v":3523.3},{"s":2,"t":596,"v":3517.6},{"s":2,"t":597.7,"v":3511.9},{"s":2,"t":599.3,"v":3514.7},{"s":2,"t":601,"v":3509},{"s":2,"t":602.7,"v":3514.7},{"s":2,"t":604.3,"v":3511.9},{"s":2,"t":606,"v":3514.7},{"s":2,"t":607.7,"v":3511.9},{"s":2,"t":611,"v":3514.7},{"s":2,"t":614.3,"v":3511.9},{"s":2,"t":617.7,"v":3515.9},{"s":2,"t":621,"v":3513.6},{"s":2,"t":624.3,"v":3519.3},{"s":2,"t":626,"v":3514.7},{"s":2,"t":627.7,"v":3511.9},{"s":2,"t":629.3,"v":3517.6},{"s":2,"t":631,"v":3509},{"s":2,"t":632.7,"v":3511.9},{"s":2,"t":634.3,"v":3514.7},{"s":2,"t":636,"v":3526.2},{"s":2,"t":637.7,"v":3532},{"s":2,"t":639.3,"v":3529.1},{"s":2,"t":641,"v":3526.2},{"s":2,"t":642.7,"v":3534.8},{"s":2,"t":644.3,"v":3529.1},{"s":2,"t":646,"v":3532},{"s":2,"t":647.7,"v":3526.2},{"s":2,"t":649.3,"v":3529.1},{"s":2,"t":651,"v":3532},{"s":2,"t":652.7,"v":3523.3},{"s":2,"t":654.3,"v":3529.1},{"s":2,"t":656,"v":3534.8},{"s":2,"t":657.7,"v":3537.7},{"s":2,"t":659.3,"v":3532},{"s":2,"t":661,"v":3529.1},{"s":2,"t":662.7,"v":3532},{"s":2,"t":664.3,"v":3526.2},{"s":2,"t":666,"v":3523.3},{"s":2,"t":667.7,"v":3532},{"s":2,"t":669.3,"v":3534.8},{"s":2,"t":671,"v":3529.1},{"s":2,"t":672.7,"v":3532},{"s":2,"t":674.3,"v":3529.1},{"s":2,"t":676,"v":3526.2},{"s":2,"t":677.7,"v":3532},{"s":2,"t":679.3,"v":3526.2},{"s":2,"t":681,"v":3529.1},{"s":2,"t":682.7,"v":3526.2},{"s":2,"t":684.3,"v":3529.1},{"s":2,"t":686,"v":3532},{"s":2,"t":687.7,"v":3526.2},{"s":2,"t":689.3,"v":3529.1},{"s":2,"t":691,"v":3532},{"s":2,"t":692.7,"v":3526.2},{"s":2,"t":694.3,"v":3529.1},{"s":2,"t":696,"v":3534.8},{"s":2,"t":697.7,"v":3543.5},{"s":2,"t":699.3,"v":3540.6},{"s":2,"t":701,"v":3546.3},{"s":2,"t":702.7,"v":3543.5},{"s":2,"t":704.3,"v":3549.2},{"s":2,"t":706,"v":3546.3},{"s":2,"t":707.7,"v":3555},{"s":2,"t":709.3,"v":3552.1},{"s":2,"t":711,"v":3557.8},{"s":2,"t":712.7,"v":3552.1},{"s":2,"t":714.3,"v":3555},{"s":2,"t":716,"v":3552.1},{"s":2,"t":717.7,"v":3549.2},{"s":2,"t":719.3,"v":3555},{"s":2,"t":721,"v":3552.1},{"s":2,"t":722.7,"v":3555},{"s":2,"t":724.3,"v":3552.1},{"s":2,"t":726,"v":3555},{"s":2,"t":727.7,"v":3557.8},{"s":2,"t":729.3,"v":3560.7},{"s":2,"t":731,"v":3563.6},{"s":2,"t":732.7,"v":3566.4},{"s":2,"t":733.7,"v":3578},{"s":2,"t":735,"v":3586.6},{"s":2,"t":736.3,"v":3583.7},{"s":2,"t":737.7,"v":3589.4},{"s":2,"t":739.3,"v":3586.6},{"s":2,"t":741,"v":3580.8},{"s":2,"t":742.7,"v":3586.6},{"s":2,"t":744.3,"v":3580.8},{"s":2,"t":746,"v":3583.7},{"s":2,"t":747.7,"v":3580.8},{"s":2,"t":749.3,"v":3589.4},{"s":2,"t":751,"v":3592.3},{"s":2,"t":752.7,"v":3598.1},{"s":2,"t":754.3,"v":3600.9},{"s":2,"t":756,"v":3595.2},{"s":2,"t":757.7,"v":3592.3},{"s":2,"t":759.3,"v":3595.2},{"s":2,"t":761,"v":3589.4},{"s":2,"t":762.7,"v":3592.3},{"s":2,"t":764.3,"v":3595.2},{"s":2,"t":766,"v":3598.1},{"s":2,"t":767.7,"v":3600.9},{"s":2,"t":769.3,"v":3598.1},{"s":2,"t":771,"v":3586.6},{"s":2,"t":772.7,"v":3578},{"s":2,"t":774.3,"v":3575.1},{"s":2,"t":776,"v":3580.8},{"s":2,"t":777.7,"v":3583.7},{"s":2,"t":779.3,"v":3586.6},{"s":2,"t":781,"v":3583.7},{"s":2,"t":782.7,"v":3586.6},{"s":2,"t":784.3,"v":3583.7},{"s":2,"t":786,"v":3589.4},{"s":2,"t":787.7,"v":3592.3},{"s":2,"t":789.3,"v":3595.2},{"s":2,"t":791,"v":3598.1},{"s":2,"t":792.7,"v":3603.8},{"s":2,"t":794.3,"v":3606.7},{"s":2,"t":796,"v":3605.5},{"s":2,"t":797.7,"v":3603.8},{"s":2,"t":799.3,"v":3598.1},{"s":2,"t":801,"v":3595.2},{"s":2,"t":802.7,"v":3598.1},{"s":2,"t":804.3,"v":3592.3},{"s":2,"t":806,"v":3595.2},{"s":2,"t":807.7,"v":3589.4},{"s":2,"t":809.3,"v":3592.3},{"s":2,"t":811,"v":3595.2},{"s":2,"t":812.7,"v":3603.8},{"s":2,"t":814.3,"v":3600.9},{"s":2,"t":816,"v":3595.2},{"s":2,"t":817.7,"v":3598.1},{"s":2,"t":819.3,"v":3595.2},{"s":2,"t":821,"v":3598.1},{"s":2,"t":822.7,"v":3592.3},{"s":2,"t":824.3,"v":3598.1},{"s":2,"t":826,"v":3595.2},{"s":2,"t":827.7,"v":3589.4},{"s":2,"t":829.3,"v":3592.3},{"s":2,"t":831,"v":3589.4},{"s":2,"t":832.7,"v":3598.1},{"s":2,"t":834.3,"v":3592.3},{"s":2,"t":836,"v":3583.7},{"s":2,"t":837.7,"v":3592.3},{"s":2,"t":839.3,"v":3603.8},{"s":2,"t":841,"v":3598.1},{"s":2,"t":842.7,"v":3589.4},{"s":2,"t":844.3,"v":3592.3},{"s":2,"t":846,"v":3598.1},{"s":2,"t":847.7,"v":3595.2},{"s":2,"t":849.3,"v":3589.4},{"s":2,"t":851,"v":3592.3},{"s":2,"t":852.7,"v":3598.1},{"s":2,"t":854.3,"v":3600.9},{"s":2,"t":856,"v":3595.2},{"s":2,"t":857.7,"v":3592.3},{"s":2,"t":859.3,"v":3595.2},{"s":2,"t":861,"v":3589.4},{"s":2,"t":862.7,"v":3598.1},{"s":2,"t":864.3,"v":3595.2},{"s":2,"t":866,"v":3592.3},{"s":2,"t":867.7,"v":3600.9},{"s":2,"t":869.3,"v":3598.1},{"s":2,"t":871,"v":3603.8},{"s":2,"t":872.7,"v":3598.1},{"s":2,"t":874.3,"v":3600.9},{"s":2,"t":876,"v":3595.2},{"s":2,"t":877.7,"v":3598.1},{"s":2,"t":879.3,"v":3603.8},{"s":2,"t":881,"v":3598.1},{"s":2,"t":882.7,"v":3600.9},{"s":2,"t":884.3,"v":3595.2},{"s":2,"t":886,"v":3598.1},{"s":2,"t":887.7,"v":3600.9},{"s":2,"t":889.3,"v":3603.8},{"s":2,"t":891,"v":3598.1},{"s":2,"t":892.7,"v":3600.9},{"s":2,"t":894.3,"v":3598.1},{"s":2,"t":896,"v":3603.8},{"s":2,"t":897.7,"v":3598.1},{"s":2,"t":899.3,"v":3600.9},{"s":2,"t":901,"v":3595.2},{"s":2,"t":902.7,"v":3589.4},{"s":2,"t":904.3,"v":3600.9},{"s":2,"t":906,"v":3603.8},{"s":2,"t":907.7,"v":3609.5},{"s":2,"t":909.3,"v":3603.8},{"s":2,"t":911,"v":3606.7},{"s":2,"t":912.7,"v":3603.8},{"s":2,"t":914.3,"v":3606.7},{"s":2,"t":916,"v":3603.8},{"s":2,"t":917.7,"v":3606.7},{"s":2,"t":919.3,"v":3615.3},{"s":2,"t":921,"v":3618.2},{"s":2,"t":922.7,"v":3615.3},{"s":2,"t":924.3,"v":3618.2},{"s":2,"t":926,"v":3615.3},{"s":2,"t":927.7,"v":3617},{"s":2,"t":929.3,"v":3612.4},{"s":2,"t":931,"v":3598.1},{"s":2,"t":932.7,"v":3583.7},{"s":2,"t":934.3,"v":3589.4},{"s":2,"t":936,"v":3578},{"s":2,"t":937.7,"v":3586.6},{"s":2,"t":939.3,"v":3589.4},{"s":2,"t":941,"v":3592.3},{"s":2,"t":942.7,"v":3595.2},{"s":2,"t":944.3,"v":3609.5},{"s":2,"t":946,"v":3600.9},
{"s":3,"t":956,"v":3599.4},{"s":3,"t":957.7,"v":3596.6},{"s":3,"t":959.3,"v":3602.3},{"s":3,"t":960.3,"v":3593.7},{"s":3,"t":961.7,"v":3599.4},{"s":3,"t":963,"v":3596.6},{"s":3,"t":964.3,"v":3602.3},{"s":3,"t":966,"v":3605.2},{"s":3,"t":967,"v":3616.7},{"s":3,"t":968.3,"v":3613.8},{"s":3,"t":969.7,"v":3610.9},{"s":3,"t":971,"v":3602.3},{"s":3,"t":972.7,"v":3596.6},{"s":3,"t":974.3,"v":3593.7},{"s":3,"t":976,"v":3608.1},{"s":3,"t":977.7,"v":3610.9},{"s":3,"t":979.3,"v":3605.2},{"s":3,"t":981,"v":3613.8},{"s":3,"t":982.7,"v":3608.1},{"s":3,"t":984.3,"v":3599.4},{"s":3,"t":986,"v":3605.2},{"s":3,"t":987.7,"v":3608.1},{"s":3,"t":989.3,"v":3605.2},{"s":3,"t":991,"v":3610.9},{"s":3,"t":992.7,"v":3613.8},{"s":3,"t":994.3,"v":3608.1},{"s":3,"t":995.3,"v":3596.6},{"s":3,"t":996.3,"v":3587.9},{"s":3,"t":997.7,"v":3576.5},{"s":3,"t":998.7,"v":3570.7},{"s":3,"t":999.7,"v":3582.2},{"s":3,"t":1001,"v":3579.3},{"s":3,"t":1002.7,"v":3585.1},{"s":3,"t":1004.3,"v":3579.3},{"s":3,"t":1005.3,"v":3596.6},{"s":3,"t":1006.3,"v":3613.8},{"s":3,"t":1007.7,"v":3616.7},{"s":3,"t":1008.7,"v":3628.2},{"s":3,"t":1009.7,"v":3639.7},{"s":3,"t":1011,"v":3642.5},{"s":3,"t":1012,"v":3648.3},{"s":3,"t":1013,"v":3645.4},{"s":3,"t":1014,"v":3654},{"s":3,"t":1015,"v":3651.2},{"s":3,"t":1016,"v":3660.9},{"s":3,"t":1017,"v":3662.7},{"s":3,"t":1018,"v":3654},{"s":3,"t":1019,"v":3656.9},{"s":3,"t":1020,"v":3648.3},{"s":3,"t":1021,"v":3642.5},{"s":3,"t":1022.7,"v":3645.4},{"s":3,"t":1024.3,"v":3648.3},{"s":3,"t":1026,"v":3647.1},{"s":3,"t":1027.3,"v":3648.3}
],
"ma":[
{"k":"ma1","s":1,"t":0,"v":3477.4},{"k":"ma1","s":1,"t":2.7,"v":3486},{"k":"ma1","s":1,"t":6,"v":3488.9},{"k":"ma1","s":1,"t":9.3,"v":3491.7},{"k":"ma1","s":1,"t":12.7,"v":3494.6},{"k":"ma1","s":1,"t":16,"v":3496.3},{"k":"ma1","s":1,"t":19.3,"v":3498.6},{"k":"ma1","s":1,"t":22.7,"v":3501.5},{"k":"ma1","s":1,"t":26,"v":3503.2},{"k":"ma1","s":1,"t":59.3,"v":3503.2},{"k":"ma1","s":1,"t":62.7,"v":3501.5},{"k":"ma1","s":1,"t":66,"v":3500.4},{"k":"ma1","s":1,"t":69.3,"v":3498.6},{"k":"ma1","s":1,"t":72.7,"v":3494.6},{"k":"ma1","s":1,"t":76,"v":3488.9},{"k":"ma1","s":1,"t":79.3,"v":3486},{"k":"ma1","s":1,"t":82.7,"v":3483.1},{"k":"ma1","s":1,"t":86,"v":3480.2},{"k":"ma1","s":1,"t":89.3,"v":3474.5},{"k":"ma1","s":1,"t":92.7,"v":3473.3},{"k":"ma1","s":1,"t":102.7,"v":3473.3},{"k":"ma1","s":1,"t":109.3,"v":3471.6},{"k":"ma1","s":1,"t":122.7,"v":3471.6},{"k":"ma1","s":1,"t":129.3,"v":3469.9},{"k":"ma1","s":1,"t":136,"v":3468.7},{"k":"ma1","s":1,"t":149.3,"v":3468.7},{"k":"ma1","s":1,"t":156,"v":3467.6},{"k":"ma1","s":1,"t":169.3,"v":3467.6},{"k":"ma1","s":1,"t":176,"v":3465.9},{"k":"ma1","s":1,"t":182.7,"v":3464.2},{"k":"ma1","s":1,"t":189.3,"v":3463},{"k":"ma1","s":1,"t":192.7,"v":3463},{"k":"ma1","s":1,"t":196,"v":3465.9},{"k":"ma1","s":1,"t":202.7,"v":3468.7},{"k":"ma1","s":1,"t":209.3,"v":3471.6},{"k":"ma1","s":1,"t":216,"v":3475.6},{"k":"ma1","s":1,"t":222.7,"v":3478.5},{"k":"ma1","s":1,"t":229.3,"v":3480.2},{"k":"ma1","s":1,"t":236,"v":3480.2},{"k":"ma1","s":1,"t":242.7,"v":3479.1},{"k":"ma1","s":1,"t":249.3,"v":3474.5},{"k":"ma1","s":1,"t":252.7,"v":3468.7},{"k":"ma1","s":1,"t":256,"v":3457.3},{"k":"ma1","s":1,"t":259.3,"v":3451.5},{"k":"ma1","s":1,"t":262.7,"v":3447.5},{"k":"ma1","s":1,"t":269.3,"v":3445.8},{"k":"ma1","s":1,"t":276,"v":3442.9},{"k":"ma1","s":1,"t":282.7,"v":3440},{"k":"ma1","s":1,"t":296,"v":3440},{"k":"ma1","s":1,"t":302.7,"v":3442.9},{"k":"ma1","s":1,"t":309.3,"v":3448.6},{"k":"ma1","s":1,"t":316,"v":3452.7},{"k":"ma1","s":1,"t":322.7,"v":3454.4},{"k":"ma1","s":1,"t":329.3,"v":3454.4},{"k":"ma1","s":1,"t":336,"v":3451.5},{"k":"ma1","s":1,"t":342.7,"v":3451.5},{"k":"ma1","s":1,"t":349.3,"v":3448.6},{"k":"ma1","s":1,"t":356,"v":3445.8},{"k":"ma1","s":1,"t":362.7,"v":3442.9},{"k":"ma1","s":1,"t":369.3,"v":3440},{"k":"ma1","s":1,"t":382.7,"v":3440},{"k":"ma1","s":1,"t":389.3,"v":3438.9},{"k":"ma1","s":1,"t":396,"v":3431.4},{"k":"ma1","s":1,"t":402.7,"v":3422.8},{"k":"ma1","s":1,"t":409.3,"v":3417},{"k":"ma1","s":1,"t":416,"v":3412.4},{"k":"ma1","s":1,"t":422.7,"v":3411.3},{"k":"ma1","s":1,"t":442.7,"v":3411.3},
{"k":"ma1","s":2,"t":447.7,"v":3412.4},{"k":"ma1","s":2,"t":461,"v":3412.4},{"k":"ma1","s":2,"t":464.3,"v":3417},{"k":"ma1","s":2,"t":467.7,"v":3421},{"k":"ma1","s":2,"t":471,"v":3425.6},{"k":"ma1","s":2,"t":474.3,"v":3426.8},{"k":"ma1","s":2,"t":481,"v":3426.8},{"k":"ma1","s":2,"t":487.7,"v":3429.7},{"k":"ma1","s":2,"t":494.3,"v":3433.1},{"k":"ma1","s":2,"t":501,"v":3435.4},{"k":"ma1","s":2,"t":507.7,"v":3437.1},{"k":"ma1","s":2,"t":514.3,"v":3440},{"k":"ma1","s":2,"t":521,"v":3442.9},{"k":"ma1","s":2,"t":527.7,"v":3445.8},{"k":"ma1","s":2,"t":534.3,"v":3448.6},{"k":"ma1","s":2,"t":541,"v":3454.4},{"k":"ma1","s":2,"t":547.7,"v":3463},{"k":"ma1","s":2,"t":554.3,"v":3471.6},{"k":"ma1","s":2,"t":561,"v":3480.2},{"k":"ma1","s":2,"t":567.7,"v":3486},{"k":"ma1","s":2,"t":574.3,"v":3496.3},{"k":"ma1","s":2,"t":581,"v":3498.6},{"k":"ma1","s":2,"t":587.7,"v":3506.1},{"k":"ma1","s":2,"t":594.3,"v":3509},{"k":"ma1","s":2,"t":601,"v":3511.9},{"k":"ma1","s":2,"t":607.7,"v":3513.6},{"k":"ma1","s":2,"t":614.3,"v":3514.7},{"k":"ma1","s":2,"t":627.7,"v":3514.7},{"k":"ma1","s":2,"t":634.3,"v":3513.6},{"k":"ma1","s":2,"t":641,"v":3513.6},{"k":"ma1","s":2,"t":647.7,"v":3514.7},{"k":"ma1","s":2,"t":654.3,"v":3517.6},{"k":"ma1","s":2,"t":661,"v":3519.3},{"k":"ma1","s":2,"t":667.7,"v":3521.6},{"k":"ma1","s":2,"t":674.3,"v":3523.3},{"k":"ma1","s":2,"t":681,"v":3523.3},{"k":"ma1","s":2,"t":687.7,"v":3525.1},{"k":"ma1","s":2,"t":694.3,"v":3526.2},{"k":"ma1","s":2,"t":701,"v":3529.1},{"k":"ma1","s":2,"t":707.7,"v":3532},{"k":"ma1","s":2,"t":714.3,"v":3533.1},{"k":"ma1","s":2,"t":721,"v":3534.8},{"k":"ma1","s":2,"t":727.7,"v":3537.7},{"k":"ma1","s":2,"t":734.3,"v":3540.6},{"k":"ma1","s":2,"t":741,"v":3546.3},{"k":"ma1","s":2,"t":747.7,"v":3552.1},{"k":"ma1","s":2,"t":754.3,"v":3556.1},{"k":"ma1","s":2,"t":761,"v":3559.5},{"k":"ma1","s":2,"t":767.7,"v":3563.6},{"k":"ma1","s":2,"t":774.3,"v":3569.3},{"k":"ma1","s":2,"t":781,"v":3575.1},{"k":"ma1","s":2,"t":787.7,"v":3579.1},{"k":"ma1","s":2,"t":794.3,"v":3582.5},{"k":"ma1","s":2,"t":801,"v":3586.6},{"k":"ma1","s":2,"t":807.7,"v":3589.4},{"k":"ma1","s":2,"t":814.3,"v":3591.2},{"k":"ma1","s":2,"t":821,"v":3592.3},{"k":"ma1","s":2,"t":827.7,"v":3593.5},{"k":"ma1","s":2,"t":834.3,"v":3594},{"k":"ma1","s":2,"t":841,"v":3595.2},{"k":"ma1","s":2,"t":854.3,"v":3596.3},{"k":"ma1","s":2,"t":867.7,"v":3598.1},{"k":"ma1","s":2,"t":881,"v":3598.1},{"k":"ma1","s":2,"t":894.3,"v":3599.2},{"k":"ma1","s":2,"t":907.7,"v":3599.8},{"k":"ma1","s":2,"t":921,"v":3600.9},{"k":"ma1","s":2,"t":927.7,"v":3602.1},{"k":"ma1","s":2,"t":934.3,"v":3600.9},{"k":"ma1","s":2,"t":941,"v":3599.8},{"k":"ma1","s":2,"t":947.7,"v":3599.8},
{"k":"ma1","s":3,"t":956,"v":3599.4},{"k":"ma1","s":3,"t":964.3,"v":3599.4},{"k":"ma1","s":3,"t":984.3,"v":3599.4},{"k":"ma1","s":3,"t":991,"v":3600.6},{"k":"ma1","s":3,"t":997.7,"v":3599.4},{"k":"ma1","s":3,"t":1001,"v":3596.6},{"k":"ma1","s":3,"t":1004.3,"v":3596.6},{"k":"ma1","s":3,"t":1007.7,"v":3599.4},{"k":"ma1","s":3,"t":1011,"v":3602.3},{"k":"ma1","s":3,"t":1014.3,"v":3605.2},{"k":"ma1","s":3,"t":1017.7,"v":3610.9},{"k":"ma1","s":3,"t":1021,"v":3612.7},{"k":"ma1","s":3,"t":1024.3,"v":3615},{"k":"ma1","s":3,"t":1026.3,"v":3615},
{"k":"ma2","s":1,"t":0,"v":3460.1},{"k":"ma2","s":1,"t":11,"v":3460.1},{"k":"ma2","s":1,"t":12.7,"v":3463},{"k":"ma2","s":1,"t":16,"v":3465.9},{"k":"ma2","s":1,"t":19.3,"v":3468.7},{"k":"ma2","s":1,"t":22.7,"v":3471.6},{"k":"ma2","s":1,"t":26,"v":3480.2},{"k":"ma2","s":1,"t":29.3,"v":3486},{"k":"ma2","s":1,"t":32.7,"v":3491.7},{"k":"ma2","s":1,"t":36,"v":3495.8},{"k":"ma2","s":1,"t":41,"v":3498.6},{"k":"ma2","s":1,"t":46,"v":3500.4},{"k":"ma2","s":1,"t":52.7,"v":3502.1},{"k":"ma2","s":1,"t":59.3,"v":3503.2},{"k":"ma2","s":1,"t":66,"v":3502.1},{"k":"ma2","s":1,"t":72.7,"v":3502.1},{"k":"ma2","s":1,"t":79.3,"v":3501.5},{"k":"ma2","s":1,"t":86,"v":3500.4},{"k":"ma2","s":1,"t":92.7,"v":3497.5},{"k":"ma2","s":1,"t":96,"v":3495.8},{"k":"ma2","s":1,"t":99.3,"v":3491.7},{"k":"ma2","s":1,"t":102.7,"v":3486},{"k":"ma2","s":1,"t":106,"v":3480.2},{"k":"ma2","s":1,"t":109.3,"v":3475.6},{"k":"ma2","s":1,"t":116,"v":3472.8},{"k":"ma2","s":1,"t":122.7,"v":3472.8},{"k":"ma2","s":1,"t":129.3,"v":3471.6},{"k":"ma2","s":1,"t":136,"v":3470.5},{"k":"ma2","s":1,"t":142.7,"v":3468.7},{"k":"ma2","s":1,"t":162.7,"v":3468.7},{"k":"ma2","s":1,"t":169.3,"v":3469.9},{"k":"ma2","s":1,"t":176,"v":3469.9},{"k":"ma2","s":1,"t":182.7,"v":3468.7},{"k":"ma2","s":1,"t":189.3,"v":3467.6},{"k":"ma2","s":1,"t":196,"v":3465.9},{"k":"ma2","s":1,"t":202.7,"v":3461.9},{"k":"ma2","s":1,"t":209.3,"v":3458.4},{"k":"ma2","s":1,"t":216,"v":3457.3},{"k":"ma2","s":1,"t":222.7,"v":3460.1},{"k":"ma2","s":1,"t":229.3,"v":3465.9},{"k":"ma2","s":1,"t":236,"v":3471.6},{"k":"ma2","s":1,"t":242.7,"v":3477.4},{"k":"ma2","s":1,"t":249.3,"v":3480.2},{"k":"ma2","s":1,"t":256,"v":3481.4},{"k":"ma2","s":1,"t":262.7,"v":3480.2},{"k":"ma2","s":1,"t":269.3,"v":3475.6},{"k":"ma2","s":1,"t":272.7,"v":3471.6},{"k":"ma2","s":1,"t":276,"v":3465.9},{"k":"ma2","s":1,"t":279.3,"v":3460.1},{"k":"ma2","s":1,"t":282.7,"v":3454.4},{"k":"ma2","s":1,"t":289.3,"v":3448.6},{"k":"ma2","s":1,"t":296,"v":3445.8},{"k":"ma2","s":1,"t":302.7,"v":3442.9},{"k":"ma2","s":1,"t":309.3,"v":3441.2},{"k":"ma2","s":1,"t":316,"v":3442.9},{"k":"ma2","s":1,"t":322.7,"v":3446.9},{"k":"ma2","s":1,"t":329.3,"v":3448.6},{"k":"ma2","s":1,"t":336,"v":3451.5},{"k":"ma2","s":1,"t":342.7,"v":3454.4},{"k":"ma2","s":1,"t":349.3,"v":3455.5},{"k":"ma2","s":1,"t":356,"v":3454.4},{"k":"ma2","s":1,"t":362.7,"v":3451.5},{"k":"ma2","s":1,"t":369.3,"v":3448.6},{"k":"ma2","s":1,"t":376,"v":3445.8},{"k":"ma2","s":1,"t":382.7,"v":3442.9},{"k":"ma2","s":1,"t":389.3,"v":3441.2},{"k":"ma2","s":1,"t":416,"v":3441.2},{"k":"ma2","s":1,"t":419.3,"v":3437.1},{"k":"ma2","s":1,"t":422.7,"v":3431.4},{"k":"ma2","s":1,"t":426,"v":3425.6},{"k":"ma2","s":1,"t":429.3,"v":3421.6},{"k":"ma2","s":1,"t":434.3,"v":3418.2},{"k":"ma2","s":1,"t":439.3,"v":3415.9},{"k":"ma2","s":1,"t":442.7,"v":3413},
{"k":"ma2","s":2,"t":476,"v":3411.3},{"k":"ma2","s":2,"t":487.7,"v":3412.4},{"k":"ma2","s":2,"t":491,"v":3414.1},{"k":"ma2","s":2,"t":494.3,"v":3419.9},{"k":"ma2","s":2,"t":497.7,"v":3422.8},{"k":"ma2","s":2,"t":501,"v":3425.6},{"k":"ma2","s":2,"t":507.7,"v":3427.4},{"k":"ma2","s":2,"t":514.3,"v":3429.7},{"k":"ma2","s":2,"t":521,"v":3431.4},{"k":"ma2","s":2,"t":527.7,"v":3433.1},{"k":"ma2","s":2,"t":534.3,"v":3435.4},{"k":"ma2","s":2,"t":541,"v":3437.1},{"k":"ma2","s":2,"t":547.7,"v":3437.1},{"k":"ma2","s":2,"t":551,"v":3438.9},{"k":"ma2","s":2,"t":554.3,"v":3442.9},{"k":"ma2","s":2,"t":561,"v":3445.8},{"k":"ma2","s":2,"t":567.7,"v":3450.4},{"k":"ma2","s":2,"t":574.3,"v":3460.1},{"k":"ma2","s":2,"t":581,"v":3468.7},{"k":"ma2","s":2,"t":587.7,"v":3477.4},{"k":"ma2","s":2,"t":594.3,"v":3480.2},{"k":"ma2","s":2,"t":601,"v":3488.9},{"k":"ma2","s":2,"t":607.7,"v":3496.3},{"k":"ma2","s":2,"t":614.3,"v":3503.2},{"k":"ma2","s":2,"t":621,"v":3507.2},{"k":"ma2","s":2,"t":627.7,"v":3510.1},{"k":"ma2","s":2,"t":634.3,"v":3513.6},{"k":"ma2","s":2,"t":681,"v":3513.6},{"k":"ma2","s":2,"t":687.7,"v":3515.9},{"k":"ma2","s":2,"t":694.3,"v":3519.3},{"k":"ma2","s":2,"t":701,"v":3521.6},{"k":"ma2","s":2,"t":707.7,"v":3523.3},{"k":"ma2","s":2,"t":714.3,"v":3525.1},{"k":"ma2","s":2,"t":721,"v":3526.2},{"k":"ma2","s":2,"t":727.7,"v":3527.9},{"k":"ma2","s":2,"t":734.3,"v":3529.1},{"k":"ma2","s":2,"t":741,"v":3532},{"k":"ma2","s":2,"t":747.7,"v":3533.7},{"k":"ma2","s":2,"t":754.3,"v":3536.6},{"k":"ma2","s":2,"t":761,"v":3540.6},{"k":"ma2","s":2,"t":767.7,"v":3546.3},{"k":"ma2","s":2,"t":774.3,"v":3550.3},{"k":"ma2","s":2,"t":781,"v":3555},{"k":"ma2","s":2,"t":787.7,"v":3559.5},{"k":"ma2","s":2,"t":794.3,"v":3564.7},{"k":"ma2","s":2,"t":801,"v":3569.3},{"k":"ma2","s":2,"t":807.7,"v":3575.1},{"k":"ma2","s":2,"t":814.3,"v":3579.1},{"k":"ma2","s":2,"t":821,"v":3582},{"k":"ma2","s":2,"t":827.7,"v":3584.8},{"k":"ma2","s":2,"t":834.3,"v":3589.4},{"k":"ma2","s":2,"t":841,"v":3592.3},{"k":"ma2","s":2,"t":854.3,"v":3594},{"k":"ma2","s":2,"t":867.7,"v":3595.2},{"k":"ma2","s":2,"t":947.7,"v":3596.3},
{"k":"ma2","s":3,"t":956,"v":3597.7},{"k":"ma2","s":3,"t":971,"v":3598.3},{"k":"ma2","s":3,"t":984.3,"v":3598.9},{"k":"ma2","s":3,"t":1004.3,"v":3599.4},{"k":"ma2","s":3,"t":1017.7,"v":3600},{"k":"ma2","s":3,"t":1022.7,"v":3598.9},{"k":"ma2","s":3,"t":1025,"v":3597.7},{"k":"ma2","s":3,"t":1026.3,"v":3596.6}
],
"trendBot":[
{"line":"u","t":319,"v":3445.7},{"line":"u","t":1055,"v":3701.4},
{"line":"l","t":371,"v":3355},{"line":"l","t":1055,"v":3591.9},
{"line":"d1","t":-27,"v":3724.5},{"line":"d1","t":8,"v":3643.4},
{"line":"d2","t":-27,"v":3646.9},{"line":"d2","t":-22,"v":3624.5}
]
},
"vconcat":[
{
"width":1055,"height":375,
"data":{"values":[{}]},
"layer":[
{"mark":{"type":"rule","color":"black","strokeWidth":2.5},"encoding":{"y":{"datum":0,"type":"quantitative","scale":{"domain":[-250,108.6],"nice":false,"zero":false}}}},
{"data":{"name":"lbl"},"mark":{"type":"text","fontSize":4.6,"font":"DejaVu Sans","fontWeight":"bold","color":"black","baseline":"middle","align":"center"},
 "encoding":{"x":{"field":"t","type":"quantitative","scale":{"domain":[0,1055],"nice":false,"zero":false},"axis":null},"y":{"datum":-6.5,"type":"quantitative","scale":{"domain":[-250,108.6],"nice":false,"zero":false}},"text":{"field":"lab"}}},
{"data":{"name":"osc"},"mark":{"type":"line","color":"#000080","strokeWidth":1.8},
 "encoding":{
  "x":{"field":"t","type":"quantitative","scale":{"domain":[0,1055],"nice":false,"zero":false},"axis":{"orient":"bottom","labels":false,"ticks":false,"grid":false,"title":null,"domainColor":"black","domainWidth":2}},
  "y":{"field":"v","type":"quantitative","scale":{"domain":[-250,108.6],"nice":false,"zero":false},"axis":{"values":[100,50,0,-50,-100,-150,-200,-250],"labelExpr":"'' + datum.value","title":null,"grid":true,"gridColor":"black","gridWidth":1,"gridOpacity":1,"domainColor":"black","domainWidth":1.5,"ticks":true,"tickColor":"black","tickSize":3,"labelPadding":4,"labelFont":"Liberation Sans Narrow, Liberation Sans","labelFontSize":9,"labelColor":"black","minExtent":29,"maxExtent":29}},
  "detail":{"field":"s"}}},
{"data":{"name":"trendTop"},"transform":[{"filter":"datum.line==='red'||datum.line==='magenta'"}],"mark":{"type":"line","strokeWidth":3.2,"strokeJoin":"round","clip":false},
 "encoding":{"x":{"field":"t","type":"quantitative","scale":{"domain":[0,1055],"nice":false,"zero":false}},"y":{"field":"v","type":"quantitative","scale":{"domain":[-250,108.6],"nice":false,"zero":false}},
  "color":{"field":"line","type":"nominal","legend":null,"scale":{"domain":["red","magenta","green","k1","k2","k3","k4","k5","b1","b2"],"range":["#ff0000","#ff00ff","#008000","#000000","#000000","#000000","#000000","#000000","#0000ff","#0000ff"]}}}},
{"data":{"name":"trendTop"},"transform":[{"filter":"datum.line!=='red'&&datum.line!=='magenta'"}],"mark":{"type":"line","strokeWidth":1,"strokeJoin":"round","clip":false},
 "encoding":{"x":{"field":"t","type":"quantitative","scale":{"domain":[0,1055],"nice":false,"zero":false}},"y":{"field":"v","type":"quantitative","scale":{"domain":[-250,108.6],"nice":false,"zero":false}},
  "color":{"field":"line","type":"nominal","legend":null,"scale":{"domain":["red","magenta","green","k1","k2","k3","k4","k5","b1","b2"],"range":["#ff0000","#ff00ff","#008000","#000000","#000000","#000000","#000000","#000000","#0000ff","#0000ff"]}}}},
{"mark":{"type":"rule","color":"white","strokeWidth":7},"encoding":{"x":{"datum":447.2,"type":"quantitative","scale":{"domain":[0,1055],"nice":false,"zero":false}}}},
{"mark":{"type":"rule","color":"black","strokeWidth":2},"encoding":{"x":{"datum":446.7,"type":"quantitative","scale":{"domain":[0,1055],"nice":false,"zero":false}}}},
{"mark":{"type":"rule","color":"white","strokeWidth":2},"encoding":{"x":{"datum":951.3,"type":"quantitative","scale":{"domain":[0,1055],"nice":false,"zero":false}}}},
{"mark":{"type":"rule","color":"white","strokeWidth":3},"encoding":{"x":{"datum":955,"type":"quantitative","scale":{"domain":[0,1055],"nice":false,"zero":false}}}}
]
},
{
"width":1055,"height":226,
"data":{"values":[{}]},
"layer":[
{"data":{"name":"price"},"mark":{"type":"line","color":"#000080","strokeWidth":1.8},
 "encoding":{
  "x":{"field":"t","type":"quantitative","scale":{"domain":[0,1055],"nice":false,"zero":false},"axis":null},
  "y":{"field":"v","type":"quantitative","scale":{"domain":[3312.4,3702.1],"nice":false,"zero":false},"axis":{"values":[3400,3500,3600,3700],"labelExpr":"'' + datum.value","title":null,"grid":true,"gridColor":{"condition":{"test":"datum.value >= 3700","value":"transparent"},"value":"black"},"gridWidth":1,"gridOpacity":1,"domainColor":"black","domainWidth":1.5,"ticks":false,"labelPadding":8,"labelFont":"Liberation Sans Narrow, Liberation Sans","labelFontSize":9,"labelColor":"black","minExtent":29,"maxExtent":29}},
  "detail":{"field":"s"}}},
{"data":{"name":"ma"},"mark":{"type":"line","strokeWidth":1.4},
 "encoding":{"x":{"field":"t","type":"quantitative","scale":{"domain":[0,1055],"nice":false,"zero":false}},"y":{"field":"v","type":"quantitative","scale":{"domain":[3312.4,3702.1],"nice":false,"zero":false}},
  "color":{"field":"k","type":"nominal","legend":null,"scale":{"domain":["ma1","ma2"],"range":["#ff00ff","#ffff00"]}},"detail":{"field":"s"}}},
{"data":{"name":"trendBot"},"mark":{"type":"line","color":"black","strokeWidth":1.1,"strokeJoin":"round","clip":false},
 "encoding":{"x":{"field":"t","type":"quantitative","scale":{"domain":[0,1055],"nice":false,"zero":false}},"y":{"field":"v","type":"quantitative","scale":{"domain":[3312.4,3702.1],"nice":false,"zero":false}},"detail":{"field":"line"}}},
{"mark":{"type":"rule","color":"black","strokeWidth":1.8},"encoding":{"x":{"datum":443.8,"type":"quantitative","scale":{"domain":[0,1055],"nice":false,"zero":false}}}},
{"mark":{"type":"rule","color":"white","strokeWidth":3},"encoding":{"x":{"datum":446.2,"type":"quantitative","scale":{"domain":[0,1055],"nice":false,"zero":false}}}},
{"mark":{"type":"rule","color":"black","strokeWidth":1.8},"encoding":{"x":{"datum":950.2,"type":"quantitative","scale":{"domain":[0,1055],"nice":false,"zero":false}}}},
{"mark":{"type":"rule","color":"white","strokeWidth":3.3},"encoding":{"x":{"datum":952.7,"type":"quantitative","scale":{"domain":[0,1055],"nice":false,"zero":false}}}}
]
}
]
}
